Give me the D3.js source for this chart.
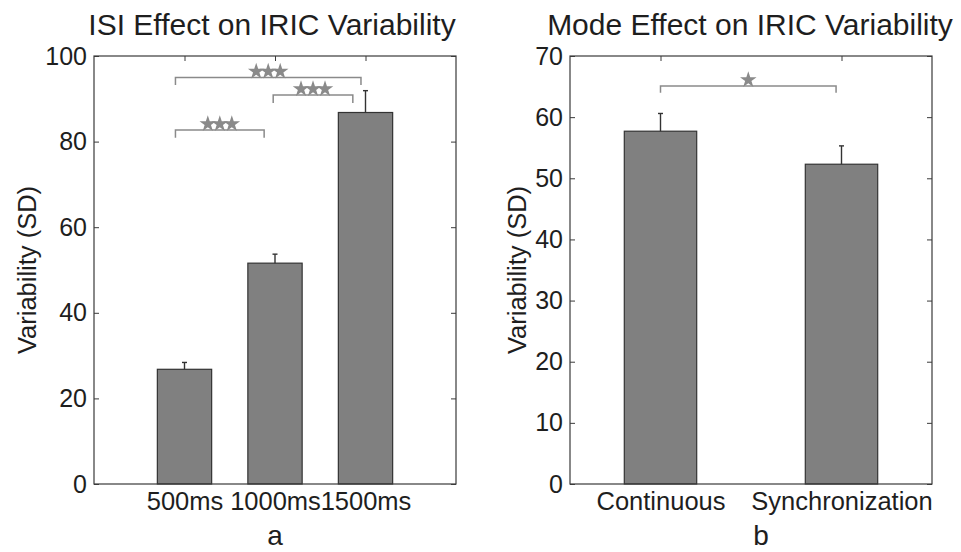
<!DOCTYPE html>
<html><head><meta charset="utf-8">
<script src="https://cdn.jsdelivr.net/npm/d3@7"></script>
<style>
html,body{margin:0;padding:0;background:#fff;}
svg{display:block;font-family:"Liberation Sans",Arial,sans-serif;}
</style></head>
<body><svg id="chart" width="961" height="552"></svg>
<script>
// Panel a: ISI effect
const isiCategories = ["500ms", "1000ms", "1500ms"];
const isiMeans = [26.8, 51.6, 86.8];
const isiErrors = [1.6, 2.1, 5.1];
const isiYTicks = [0, 20, 40, 60, 80, 100];
// significance brackets (x in category units, y in data units)
const isiBrackets = [
  {x1: 0.9, x2: 2.95, y: 95.0, tip: 93.2, stars: 3},
  {x1: 1.98, x2: 2.86, y: 90.9, tip: 89.0, stars: 3},
  {x1: 0.9, x2: 1.88, y: 82.7, tip: 80.9, stars: 3}
];
// Panel b: Mode effect
const modeCategories = ["Continuous", "Synchronization"];
const modeMeans = [57.7, 52.3];
const modeErrors = [2.9, 3.0];
const modeYTicks = [0, 10, 20, 30, 40, 50, 60, 70];
const modeBrackets = [
  {x1: 1.0, x2: 1.97, y: 65.1, tip: 64.0, stars: 1}
];

const svg = d3.select("#chart");
const axisColor = "#3a3a3a";
const barFill = "#808080";
const bracketColor = "#8a8a8a";
const textColor = "#1e1e1e";

function panel(opts) {
  const {left, right, top, bottom, xDomain, yMax, cats, means, errs, ticks, brackets, barW, title, titleX, letter, letterX, ylabX} = opts;
  const x = d3.scaleLinear().domain(xDomain).range([left, right]);
  const y = d3.scaleLinear().domain([0, yMax]).range([bottom, top]);
  const g = svg.append("g");
  const idx = cats.map((c, i) => i + 1);

  // bars
  g.selectAll("rect.bar").data(means).join("rect")
    .attr("class", "bar")
    .attr("x", (d, i) => x(idx[i] - barW / 2))
    .attr("width", (d, i) => x(idx[i] + barW / 2) - x(idx[i] - barW / 2))
    .attr("y", d => y(d))
    .attr("height", d => y(0) - y(d))
    .attr("fill", barFill).attr("stroke", "#333").attr("stroke-width", 1.2);

  // error bars (upper only)
  g.selectAll("line.err").data(means).join("line")
    .attr("x1", (d, i) => x(idx[i])).attr("x2", (d, i) => x(idx[i]))
    .attr("y1", d => y(d)).attr("y2", (d, i) => y(d + errs[i]))
    .attr("stroke", "#333").attr("stroke-width", 1.4);
  g.selectAll("line.cap").data(means).join("line")
    .attr("x1", (d, i) => x(idx[i]) - 2.5).attr("x2", (d, i) => x(idx[i]) + 2.5)
    .attr("y1", (d, i) => y(d + errs[i])).attr("y2", (d, i) => y(d + errs[i]))
    .attr("stroke", "#333").attr("stroke-width", 1.4);

  // box
  g.append("rect").attr("x", left).attr("y", top).attr("width", right - left).attr("height", bottom - top)
    .attr("fill", "none").attr("stroke", axisColor).attr("stroke-width", 1.2);

  // y ticks left and right (inside)
  const yAxisL = d3.axisLeft(y).tickValues(ticks).tickSize(-5).tickPadding(7).tickFormat(d3.format("d"));
  const gl = g.append("g").attr("transform", `translate(${left},0)`).call(yAxisL);
  gl.select(".domain").remove();
  gl.selectAll("line").attr("stroke", axisColor);
  gl.selectAll("text").attr("font-size", 25).attr("fill", textColor).attr("font-family", "Liberation Sans, Arial, sans-serif");
  const yAxisR = d3.axisRight(y).tickValues(ticks).tickSize(-5).tickFormat("");
  const gr = g.append("g").attr("transform", `translate(${right},0)`).call(yAxisR);
  gr.select(".domain").remove();
  gr.selectAll("line").attr("stroke", axisColor);

  // x ticks top (inside) and bottom labels
  const xAxisT = d3.axisTop(x).tickValues(idx).tickSize(-5).tickFormat("");
  const gt = g.append("g").attr("transform", `translate(0,${top})`).call(xAxisT);
  gt.select(".domain").remove();
  gt.selectAll("line").attr("stroke", axisColor);
  const xAxisB = d3.axisBottom(x).tickValues(idx).tickSize(0).tickPadding(8).tickFormat((d) => cats[d - 1]);
  const gb = g.append("g").attr("transform", `translate(0,${bottom})`).call(xAxisB);
  gb.select(".domain").remove();
  gb.selectAll("text").attr("font-size", 25.5).attr("fill", textColor).attr("font-family", "Liberation Sans, Arial, sans-serif");

  // brackets
  brackets.forEach(b => {
    g.append("path")
      .attr("d", `M${x(b.x1)},${y(b.tip)}V${y(b.y)}H${x(b.x2)}V${y(b.tip)}`)
      .attr("fill", "none").attr("stroke", bracketColor).attr("stroke-width", 1.5);
    const cx = (x(b.x1) + x(b.x2)) / 2;
    const star = d3.symbol().type(d3.symbolStar).size(85);
    for (let k = 0; k < b.stars; k++) {
      const sx = cx + (k - (b.stars - 1) / 2) * 12;
      g.append("path").attr("d", star()).attr("transform", `translate(${sx},${y(b.y) - 6})`)
        .attr("fill", bracketColor);
    }
  });

  // title
  svg.append("text").attr("x", titleX).attr("y", 35).attr("text-anchor", "middle")
    .attr("font-size", 30).attr("fill", textColor).text(title);
  // y label
  svg.append("text").attr("transform", `translate(${ylabX},${(top + bottom) / 2}) rotate(-90)`)
    .attr("text-anchor", "middle").attr("font-size", 25.5).attr("fill", textColor).text("Variability (SD)");
  // letter
  svg.append("text").attr("x", letterX).attr("y", 545).attr("text-anchor", "middle")
    .attr("font-size", 28).attr("fill", textColor).text(letter);
}

panel({left: 94, right: 456, top: 56, bottom: 484, xDomain: [0, 4], yMax: 100,
  cats: isiCategories, means: isiMeans, errs: isiErrors, ticks: isiYTicks, brackets: isiBrackets,
  barW: 0.6, title: "ISI Effect on IRIC Variability", titleX: 272, letter: "a", letterX: 275, ylabX: 36});
panel({left: 570, right: 932, top: 56, bottom: 484, xDomain: [0.5, 2.5], yMax: 70,
  cats: modeCategories, means: modeMeans, errs: modeErrors, ticks: modeYTicks, brackets: modeBrackets,
  barW: 0.4, title: "Mode Effect on IRIC Variability", titleX: 750, letter: "b", letterX: 761, ylabX: 526});
</script></body></html>
